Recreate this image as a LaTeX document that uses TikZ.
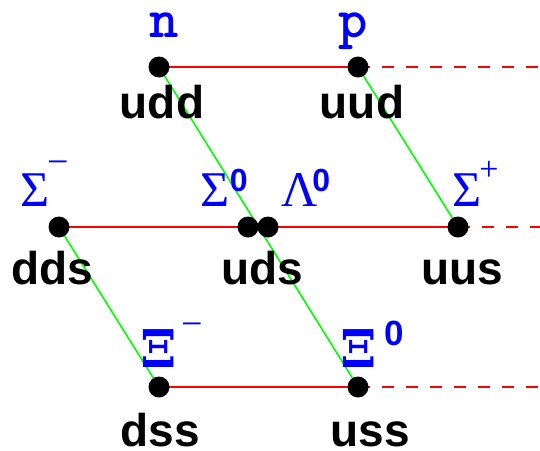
\documentclass[tikz,border=0pt]{standalone}
\usepackage{fontspec}
\usepackage{graphicx}
\setmainfont{Liberation Sans}
\newfontfamily\serifg{Liberation Serif}
\newfontfamily\xifont{DejaVu Serif}
\usetikzlibrary{backgrounds}
\tikzset{
  dot/.style={circle,fill=black,minimum size=21pt,inner sep=0pt},
  quark/.style={anchor=base,inner sep=0pt,font=\fontsize{46}{50}\selectfont\bfseries},
  mono/.style={anchor=base,inner sep=0pt,text=blue,font=\fontsize{56}{60}\ttfamily\bfseries\selectfont},
  greek/.style={anchor=base west,inner sep=0pt,text=blue},
  strange/.style={draw=red,line width=2pt},
  strangedash/.style={draw=red,line width=2pt,dash pattern=on 12pt off 12pt},
  isospin/.style={draw=green,line width=1.6pt}
}
\newcommand{\gS}{{\fontsize{50}{54}\serifg\selectfont\char"03A3}}
\newcommand{\gL}{{\fontsize{50}{54}\serifg\selectfont\char"039B}}
\newcommand{\gX}{\rlap{\scalebox{1.0}[1]{\fontsize{52}{56}\xifont\bfseries\selectfont\char"039E}}}
\newcommand{\supzero}[2]{\raisebox{#2}{\fontsize{#1}{#1}\bfseries\selectfont 0}}
\newcommand{\supminus}[1]{\raisebox{#1}{\fontsize{38}{38}\serifg\selectfont\char"2212}}
\newcommand{\supplus}[1]{\raisebox{#1}{\fontsize{34}{34}\serifg\selectfont +}}
\begin{document}
\begin{tikzpicture}[x=1pt,y=-1pt]
\useasboundingbox (0,0) rectangle (540,450);
% dots
\node[dot] (n) at (159,67) {};
\node[dot] (p) at (358,67) {};
\node[dot] (sm) at (59,227) {};
\node[dot] (s0) at (248,227) {};
\node[dot] (l0) at (268,227) {};
\node[dot] (sp) at (458,227) {};
\node[dot] (xm) at (159,387) {};
\node[dot] (x0) at (358,387) {};
\coordinate (pe) at (540,67);
\coordinate (spe) at (540,227);
\coordinate (x0e) at (540,387);
\begin{pgfonlayer}{background}
\draw[strange] (n.center) -- (p.center);
\draw[strange] (sm.center) -- (l0.center);
\draw[strange] (l0.center) -- (sp.center);
\draw[strange] (xm.center) -- (x0.center);
\draw[strangedash] (p.center) -- (pe);
\draw[strangedash] (sp.center) -- (spe);
\draw[strangedash] (x0.center) -- (x0e);
\draw[isospin] (n.center) -- (x0.center);
\draw[isospin] (p.center) -- (sp.center);
\draw[isospin] (sm.center) -- (xm.center);
\end{pgfonlayer}
% quark labels
\node[quark] (qudd) at (162,118) {udd};
\node[quark] (quud) at (362,118) {uud};
\node[quark] (qdds) at (52,284) {dds};
\node[quark] (quds) at (262,284) {uds};
\node[quark] (quus) at (462,284) {uus};
\node[quark] (qdss) at (160,446) {dss};
\node[quark] (quss) at (370,446) {uss};
% particle labels
\node[mono] (ln) at (164,37) {n};
\node[mono] (lp) at (353,37) {p};
\node[greek] (lsm) at (20,206) {\gS\kern-1.5pt\supminus{32pt}};
\node[greek] (ls0) at (200,206) {\gS\kern0.5pt\supzero{32}{15pt}};
\node[greek] (ll0) at (281,206) {\gL\kern-5pt\supzero{32}{15pt}};
\node[greek] (lsp) at (452,206) {\gS\kern-2pt\supplus{26pt}};
\node[greek] (lxm) at (140,367) {\gX\kern41pt\supminus{31pt}};
\node[greek] (lx0) at (340,367) {\gX\kern44pt\supzero{35}{22pt}};
\end{tikzpicture}
\end{document}
